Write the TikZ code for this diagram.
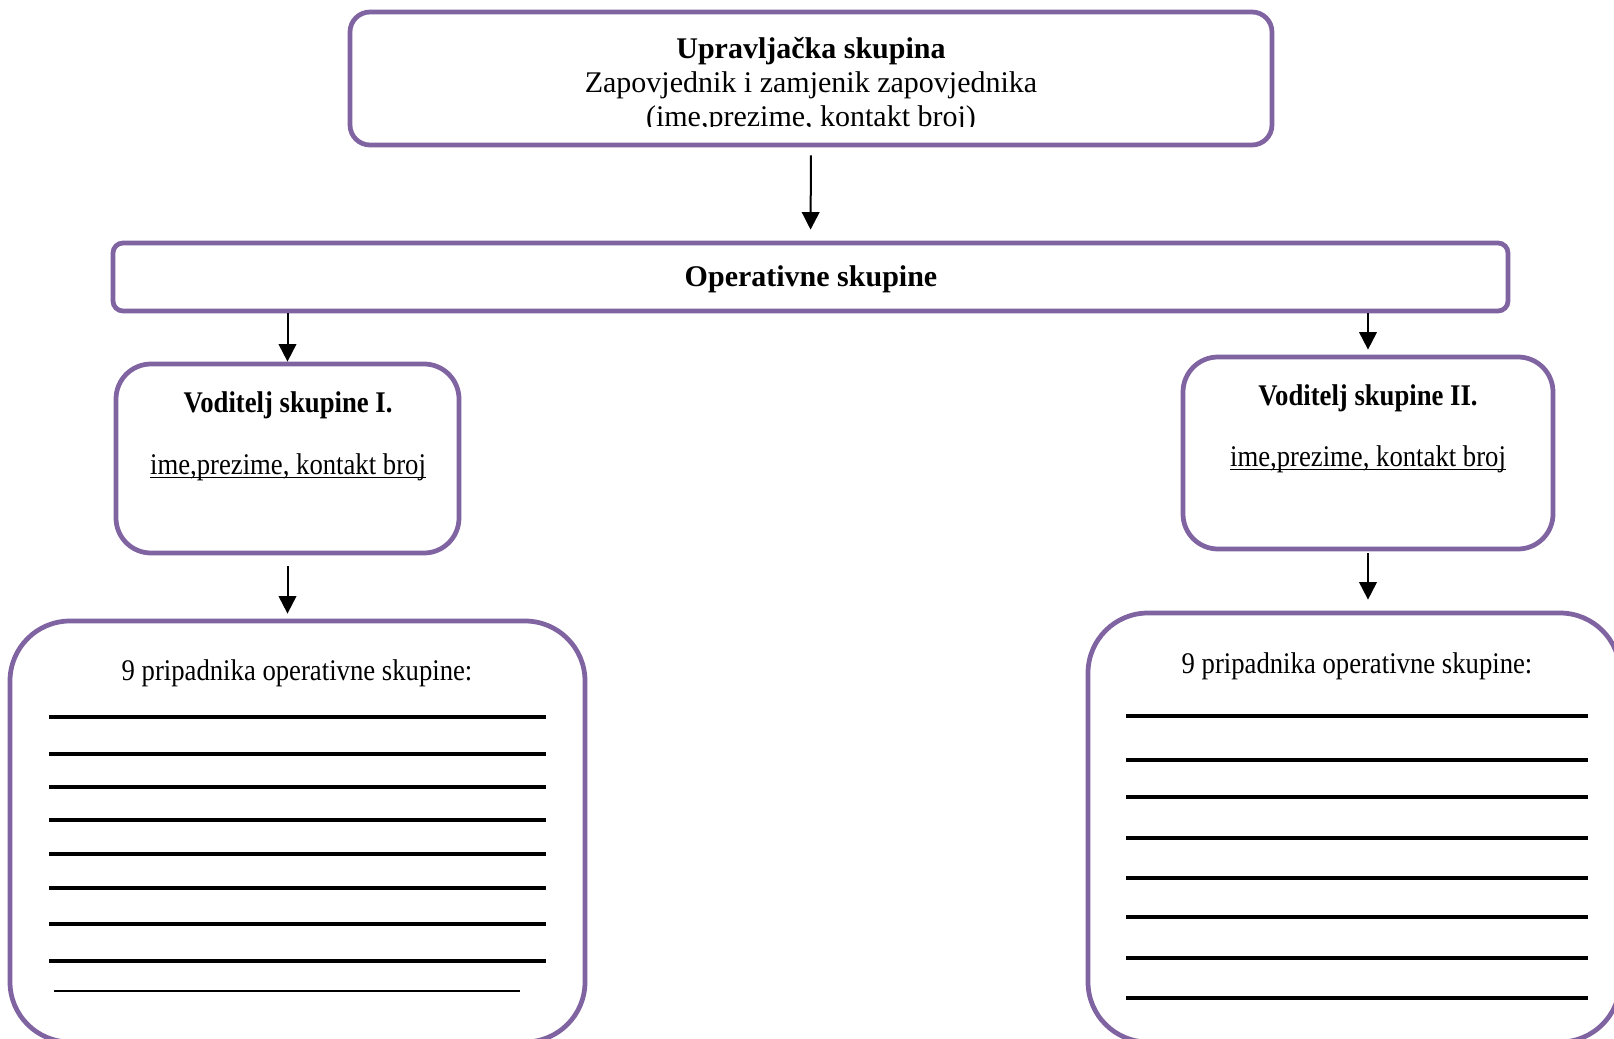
\documentclass[tikz,border=0pt]{standalone}
\usepackage{fontspec}
\setmainfont{Liberation Serif}
\newfontfamily\uskoPismo[FakeStretch=0.89]{Liberation Serif}
\usetikzlibrary{arrows.meta}
\definecolor{ljubicasta}{HTML}{8064A2}
\newcommand{\Podcrtano}[1]{\setbox0\hbox{#1}\rlap{\rule[-1.6pt]{\wd0}{0.6pt}}\box0}
\tikzset{
  kutija/.style={draw=ljubicasta, line width=1.9pt, rounded corners=#1, inner sep=0pt},
  kutija/.default=8pt,
  usko/.style={font=\fontsize{12}{13.6}\uskoPismo},
  strelica/.style={-{Triangle[width=7pt,length=7pt]}, line width=0.8pt},
  crta/.style={line width=1.5pt}
}

\begin{document}
\begin{tikzpicture}[x=0.4pt, y=-0.4pt, font=\fontsize{12}{13.6}\selectfont]
  \clip (0,0) rectangle (1614,1039);
  % okviri
  \node[kutija=8pt, minimum width=922*0.4pt, minimum height=133*0.4pt] (uprava) at (811,78.5) {};
  \node[kutija=4pt, minimum width=1395*0.4pt, minimum height=68*0.4pt] (operativne) at (810.5,277) {};
  \node[kutija=14pt, minimum width=343*0.4pt, minimum height=189*0.4pt] (voditelj1) at (287.5,458.5) {};
  \node[kutija=14pt, minimum width=370*0.4pt, minimum height=192*0.4pt] (voditelj2) at (1368,453) {};
  \node[kutija=24pt, minimum width=575*0.4pt, minimum height=421*0.4pt] (clanovi1) at (297.5,831.5) {};
  \node[kutija=24pt, minimum width=532*0.4pt, minimum height=429*0.4pt] (clanovi2) at (1354,827.5) {};
  %
  \begin{scope}
    \clip (340,0) rectangle (1280,127);
    \node[align=center] (upravatekst) at (811,85) {\textbf{Upravljačka skupina}\\Zapovjednik i zamjenik zapovjednika\\(ime,prezime, kontakt broj)};
  \end{scope}
  \node (operativnetekst) at (811,279) {\textbf{Operativne skupine}};
  \node[usko] (v1naslov) at (288,405) {\textbf{Voditelj skupine I.}};
  \node[usko] (v1ime) at (288,467) {\Podcrtano{ime,prezime, kontakt broj}};
  \node[usko] (v2naslov) at (1368,398) {\textbf{Voditelj skupine II.}};
  \node[usko] (v2ime) at (1368,459) {\Podcrtano{ime,prezime, kontakt broj}};
  \node[usko] (c1naslov) at (297,673) {9 pripadnika operativne skupine:};
  \node[usko] (c2naslov) at (1357,666) {9 pripadnika operativne skupine:};
  %
  \draw[strelica, shorten <=3.2pt, shorten >=4.4pt] (uprava.south) -- (operativne.north);
  \draw[strelica] (operativne.south -| voditelj1.north) -- (voditelj1.north);
  \draw[strelica, shorten >=2pt] (operativne.south -| voditelj2.north) -- (voditelj2.north);
  \draw[strelica, shorten <=4.4pt, shorten >=2pt] (voditelj1.south) -- (voditelj1.south |- clanovi1.north);
  \draw[strelica, shorten <=0.8pt, shorten >=4.4pt] (voditelj2.south) -- (voditelj2.south |- clanovi2.north);
  %
  \foreach \y in {717,754,787,820,854,888,924,961}
    \draw[crta] (49,\y) -- (546,\y);
  \draw[line width=1pt] (54,991) -- (520,991);
  \foreach \y in {716,760,797,838,878,917,958,998}
    \draw[crta] (1126,\y) -- (1588,\y);
\end{tikzpicture}
\end{document}
